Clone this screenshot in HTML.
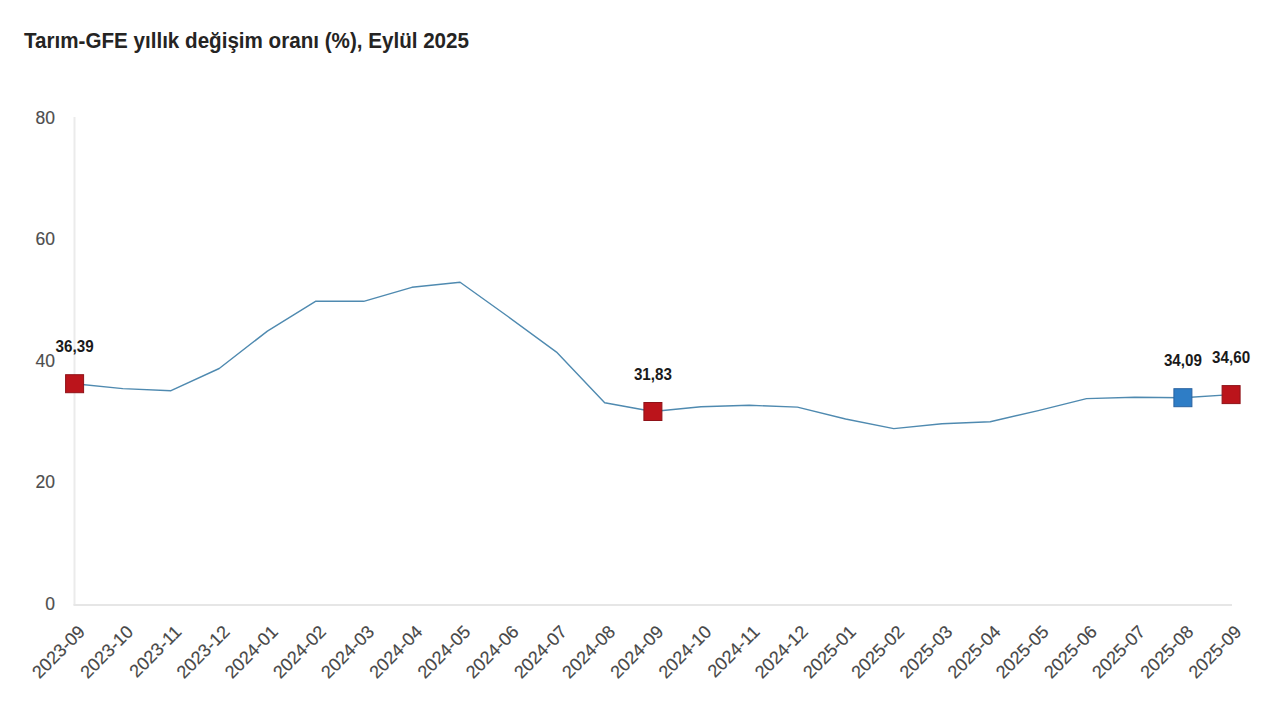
<!DOCTYPE html>
<html><head><meta charset="utf-8"><style>
html,body{margin:0;padding:0;background:#fff;width:1280px;height:720px;overflow:hidden}
svg{display:block}
.t{font-family:"Liberation Sans",sans-serif;font-weight:bold;font-size:21.8px;fill:#252423}
.yl{font-family:"Liberation Sans",sans-serif;font-size:17.5px;fill:#4d4d4d;stroke:#4d4d4d;stroke-width:0.15px;text-anchor:end}
.xl{font-family:"Liberation Sans",sans-serif;font-size:18px;fill:#474747;stroke:#474747;stroke-width:0.15px;text-anchor:end}
.dl{font-family:"Liberation Sans",sans-serif;font-weight:bold;font-size:16.5px;fill:#1a1a1a;text-anchor:middle}
</style></head><body>
<svg width="1280" height="720" viewBox="0 0 1280 720">
<rect width="1280" height="720" fill="#fff"/>
<text x="24" y="48" class="t" textLength="445" lengthAdjust="spacingAndGlyphs">Tarım-GFE yıllık değişim oranı (%), Eylül 2025</text>
<line x1="74.5" y1="117" x2="74.5" y2="605" stroke="#ebebeb" stroke-width="2"/>
<line x1="73.5" y1="605" x2="1232" y2="605" stroke="#e6e6e6" stroke-width="2"/>
<text x="55" y="610.0" class="yl">0</text>
<text x="55" y="488.4" class="yl">20</text>
<text x="55" y="366.8" class="yl">40</text>
<text x="55" y="245.2" class="yl">60</text>
<text x="55" y="123.6" class="yl">80</text>

<polyline points="74.6,383.7 122.8,388.6 171.0,390.7 219.2,368.5 267.4,331.1 315.5,301.3 363.7,301.3 411.9,287.3 460.1,282.2 508.3,316.8 556.5,352.1 604.7,402.7 652.9,411.5 701.0,406.8 749.2,405.3 797.4,407.1 845.6,419.0 893.8,428.6 942.0,423.8 990.2,421.8 1038.3,410.6 1086.5,398.6 1134.7,397.2 1182.9,397.7 1231.1,394.6" fill="none" stroke="#4f8ab0" stroke-width="1.4" stroke-linejoin="round"/>
<rect x="65.6" y="374.7" width="18" height="18" fill="#bb141b" stroke="#8f1218" stroke-width="1"/>
<rect x="643.9" y="402.5" width="18" height="18" fill="#bb141b" stroke="#8f1218" stroke-width="1"/>
<rect x="1173.9" y="388.7" width="18" height="18" fill="#2e7dc6" stroke="#2a62a0" stroke-width="1"/>
<rect x="1222.1" y="385.6" width="18" height="18" fill="#bb141b" stroke="#8f1218" stroke-width="1"/>

<text x="74.6" y="351.9" class="dl" textLength="38" lengthAdjust="spacingAndGlyphs">36,39</text>
<text x="652.9" y="379.7" class="dl" textLength="38" lengthAdjust="spacingAndGlyphs">31,83</text>
<text x="1182.9" y="365.9" class="dl" textLength="38" lengthAdjust="spacingAndGlyphs">34,09</text>
<text x="1231.1" y="362.8" class="dl" textLength="38" lengthAdjust="spacingAndGlyphs">34,60</text>

<text transform="translate(86.2,632.8) rotate(-45)" class="xl">2023-09</text>
<text transform="translate(134.4,632.8) rotate(-45)" class="xl">2023-10</text>
<text transform="translate(182.6,632.8) rotate(-45)" class="xl">2023-11</text>
<text transform="translate(230.8,632.8) rotate(-45)" class="xl">2023-12</text>
<text transform="translate(279.0,632.8) rotate(-45)" class="xl">2024-01</text>
<text transform="translate(327.1,632.8) rotate(-45)" class="xl">2024-02</text>
<text transform="translate(375.3,632.8) rotate(-45)" class="xl">2024-03</text>
<text transform="translate(423.5,632.8) rotate(-45)" class="xl">2024-04</text>
<text transform="translate(471.7,632.8) rotate(-45)" class="xl">2024-05</text>
<text transform="translate(519.9,632.8) rotate(-45)" class="xl">2024-06</text>
<text transform="translate(568.1,632.8) rotate(-45)" class="xl">2024-07</text>
<text transform="translate(616.3,632.8) rotate(-45)" class="xl">2024-08</text>
<text transform="translate(664.5,632.8) rotate(-45)" class="xl">2024-09</text>
<text transform="translate(712.6,632.8) rotate(-45)" class="xl">2024-10</text>
<text transform="translate(760.8,632.8) rotate(-45)" class="xl">2024-11</text>
<text transform="translate(809.0,632.8) rotate(-45)" class="xl">2024-12</text>
<text transform="translate(857.2,632.8) rotate(-45)" class="xl">2025-01</text>
<text transform="translate(905.4,632.8) rotate(-45)" class="xl">2025-02</text>
<text transform="translate(953.6,632.8) rotate(-45)" class="xl">2025-03</text>
<text transform="translate(1001.8,632.8) rotate(-45)" class="xl">2025-04</text>
<text transform="translate(1049.9,632.8) rotate(-45)" class="xl">2025-05</text>
<text transform="translate(1098.1,632.8) rotate(-45)" class="xl">2025-06</text>
<text transform="translate(1146.3,632.8) rotate(-45)" class="xl">2025-07</text>
<text transform="translate(1194.5,632.8) rotate(-45)" class="xl">2025-08</text>
<text transform="translate(1242.7,632.8) rotate(-45)" class="xl">2025-09</text>

</svg>
</body></html>
